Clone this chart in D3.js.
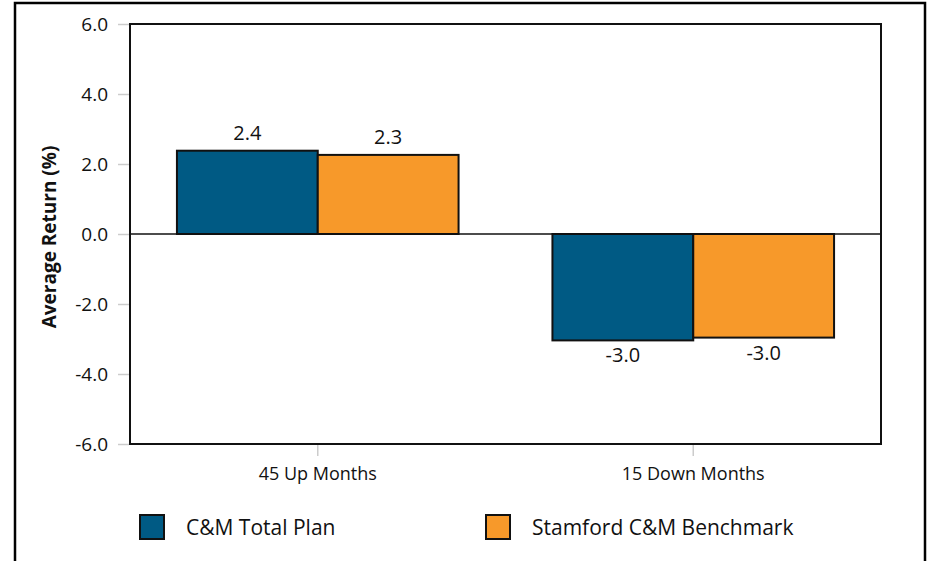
<!DOCTYPE html>
<html>
<head>
<meta charset="utf-8">
<script src="https://cdn.jsdelivr.net/npm/d3@7"></script>
<style>
  body { margin: 0; background: #fff; }
  text { font-family: "Open Sans", sans-serif; fill: #111; }
</style>
</head>
<body>
<svg id="chart" width="932" height="561"></svg>
<script>
var categories = ["45 Up Months", "15 Down Months"];
var seriesNames = ["C&M Total Plan", "Stamford C&M Benchmark"];
var totalPlan = [2.38, -3.04];
var benchmark = [2.26, -2.96];
var yTicks = [-6, -4, -2, 0, 2, 4, 6];
var colors = ["#005A84", "#F7992A"];

var fmt = function(v) { return v.toFixed(1); };

var svg = d3.select("#chart");
var margin = {top: 24, right: 51, bottom: 117, left: 130};
var width = 932 - margin.left - margin.right;
var height = 561 - margin.top - margin.bottom;

// outer frame (no bottom edge)
svg.append("path")
    .attr("d", "M15,561 L15,3 L925,3 L925,561")
    .attr("fill", "none")
    .attr("stroke", "#000")
    .attr("stroke-width", 2.5);

var g = svg.append("g")
    .attr("transform", "translate(" + margin.left + "," + margin.top + ")");

var x0 = d3.scaleBand().domain(categories).range([0, width])
    .paddingInner(0.25).paddingOuter(0.125);
var x1 = d3.scaleBand().domain(seriesNames).range([0, x0.bandwidth()]);
var y = d3.scaleLinear().domain([-6, 6]).range([height, 0]);

// y axis
var yAxis = g.append("g")
    .attr("transform", "translate(-1,0)")
    .call(d3.axisLeft(y).tickValues(yTicks).tickFormat(fmt).tickSize(11).tickPadding(10));
yAxis.select(".domain").remove();
yAxis.selectAll("line").attr("stroke", "#ccc").attr("stroke-width", 1.5);
yAxis.selectAll("text").attr("font-size", "19px").attr("font-family", "Open Sans").attr("fill", "#111");

// x axis ticks and labels
var xAxis = g.append("g")
    .attr("transform", "translate(0," + height + ")")
    .call(d3.axisBottom(x0).tickSize(12).tickPadding(11));
xAxis.select(".domain").remove();
xAxis.selectAll("line").attr("stroke", "#ccc").attr("stroke-width", 1.5);
xAxis.selectAll("text").attr("font-size", "18px").attr("font-family", "Open Sans").attr("fill", "#111");

var rows = categories.map(function(c, i) {
    return {cat: c, vals: [totalPlan[i], benchmark[i]]};
});

var groups = g.selectAll(".grp").data(rows).enter().append("g")
    .attr("transform", function(d) { return "translate(" + x0(d.cat) + ",0)"; });

groups.selectAll("rect")
    .data(function(d) { return d.vals.map(function(v, j) { return {name: seriesNames[j], v: v, j: j}; }); })
    .enter().append("rect")
    .attr("x", function(d) { return x1(d.name); })
    .attr("y", function(d) { return y(Math.max(0, d.v)); })
    .attr("width", x1.bandwidth())
    .attr("height", function(d) { return Math.abs(y(d.v) - y(0)); })
    .attr("fill", function(d) { return colors[d.j]; })
    .attr("stroke", "#111")
    .attr("stroke-width", 2);

groups.selectAll(".lbl")
    .data(function(d) { return d.vals.map(function(v, j) { return {name: seriesNames[j], v: v}; }); })
    .enter().append("text")
    .attr("x", function(d) { return x1(d.name) + x1.bandwidth() / 2; })
    .attr("y", function(d) { return d.v >= 0 ? y(d.v) - 11 : y(d.v) + 22; })
    .attr("text-anchor", "middle")
    .attr("font-size", "20px")
    .text(function(d) { return fmt(d.v); });

// zero line
g.append("line")
    .attr("x1", 0).attr("x2", width)
    .attr("y1", y(0)).attr("y2", y(0))
    .attr("stroke", "#111").attr("stroke-width", 1.5);

// plot frame
g.append("rect")
    .attr("width", width).attr("height", height)
    .attr("fill", "none").attr("stroke", "#111").attr("stroke-width", 2);

// y title
svg.append("text")
    .attr("transform", "translate(56," + (margin.top + height / 2 + 3) + ") rotate(-90)")
    .attr("text-anchor", "middle")
    .attr("font-size", "19px")
    .attr("font-weight", "bold")
    .text("Average Return (%)");

// legend
var legendX = [140, 486];
var legend = svg.selectAll(".leg").data(seriesNames).enter().append("g")
    .attr("transform", function(d, i) { return "translate(" + legendX[i] + ",515)"; });
legend.append("rect")
    .attr("width", 24).attr("height", 24)
    .attr("fill", function(d, i) { return colors[i]; })
    .attr("stroke", "#111").attr("stroke-width", 2);
legend.append("text")
    .attr("x", 46).attr("y", 20)
    .attr("font-size", "21px")
    .text(function(d) { return d; });
</script>
</body>
</html>
